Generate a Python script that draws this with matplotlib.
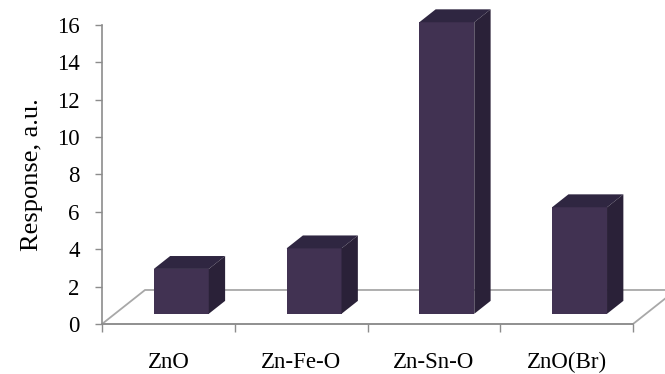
import matplotlib
matplotlib.use('Agg')
import matplotlib.pyplot as plt
from matplotlib.patches import Polygon
import numpy as np

# Response of each material
materials = ['ZnO', 'Zn-Fe-O', 'Zn-Sn-O', 'ZnO(Br)']
response = [2.4, 3.5, 15.6, 5.7]
y_ticks = [0, 2, 4, 6, 8, 10, 12, 14, 16]

plt.rcParams['font.family'] = ['Liberation Serif', 'DejaVu Serif']

fig = plt.figure(figsize=(6.65, 3.74), dpi=100)
ax = fig.add_axes([0.1534, 0.1337, 0.7985, 0.7995])

# oblique depth vector (data units) used for the fake 3D look
dx, dy = 0.324, 1.82
f_front, f_back = 0.30, 0.68
bar_w = 0.414

front_c = '#413252'
top_c = '#2f2641'
side_c = '#2a2138'
grid_c = '#a8a8a8'

n = len(materials)
x = np.arange(n) + 0.5

# floor plane
floor = Polygon([(0, 0), (n, 0), (n + dx, dy), (dx, dy)], closed=True,
                facecolor='white', edgecolor=grid_c, lw=1.3, clip_on=False, zorder=1)
ax.add_patch(floor)

ox, oy = f_front * dx, f_front * dy
ddx, ddy = (f_back - f_front) * dx, (f_back - f_front) * dy

bars = ax.bar(x + ox, response, width=bar_w, bottom=oy, color=front_c, zorder=3)
for b in bars:
    b.set_clip_on(False)
for xi, v in zip(x, response):
    l = xi + ox - bar_w / 2
    r = xi + ox + bar_w / 2
    t = oy + v
    ax.add_patch(Polygon([(l, t), (r, t), (r + ddx, t + ddy), (l + ddx, t + ddy)],
                         closed=True, facecolor=top_c, edgecolor='none',
                         clip_on=False, zorder=3))
    ax.add_patch(Polygon([(r, oy), (r + ddx, oy + ddy), (r + ddx, t + ddy), (r, t)],
                         closed=True, facecolor=side_c, edgecolor='none',
                         clip_on=False, zorder=3))

ax.set_xlim(0, n)
ax.set_ylim(0, 16)
ax.set_yticks(y_ticks)
ax.set_xticks(np.arange(n + 1))
ax.set_xticklabels([])
ax.set_xticks(x, minor=True)
ax.set_xticklabels(materials, minor=True)
ax.tick_params(axis='x', which='minor', length=0, pad=20, labelsize=16.5)
ax.tick_params(axis='x', which='major', length=6, color='#8c8c8c', width=1)
ax.tick_params(axis='y', length=5, color='#8c8c8c', width=1, pad=11, labelsize=16.5)

for side in ['top', 'right']:
    ax.spines[side].set_visible(False)
for side in ['left', 'bottom']:
    ax.spines[side].set_color('#8c8c8c')
    ax.spines[side].set_linewidth(1.2)

ax.set_ylabel('Response, a.u.', fontsize=19, labelpad=10)

fig.savefig('out.png', dpi=100)
